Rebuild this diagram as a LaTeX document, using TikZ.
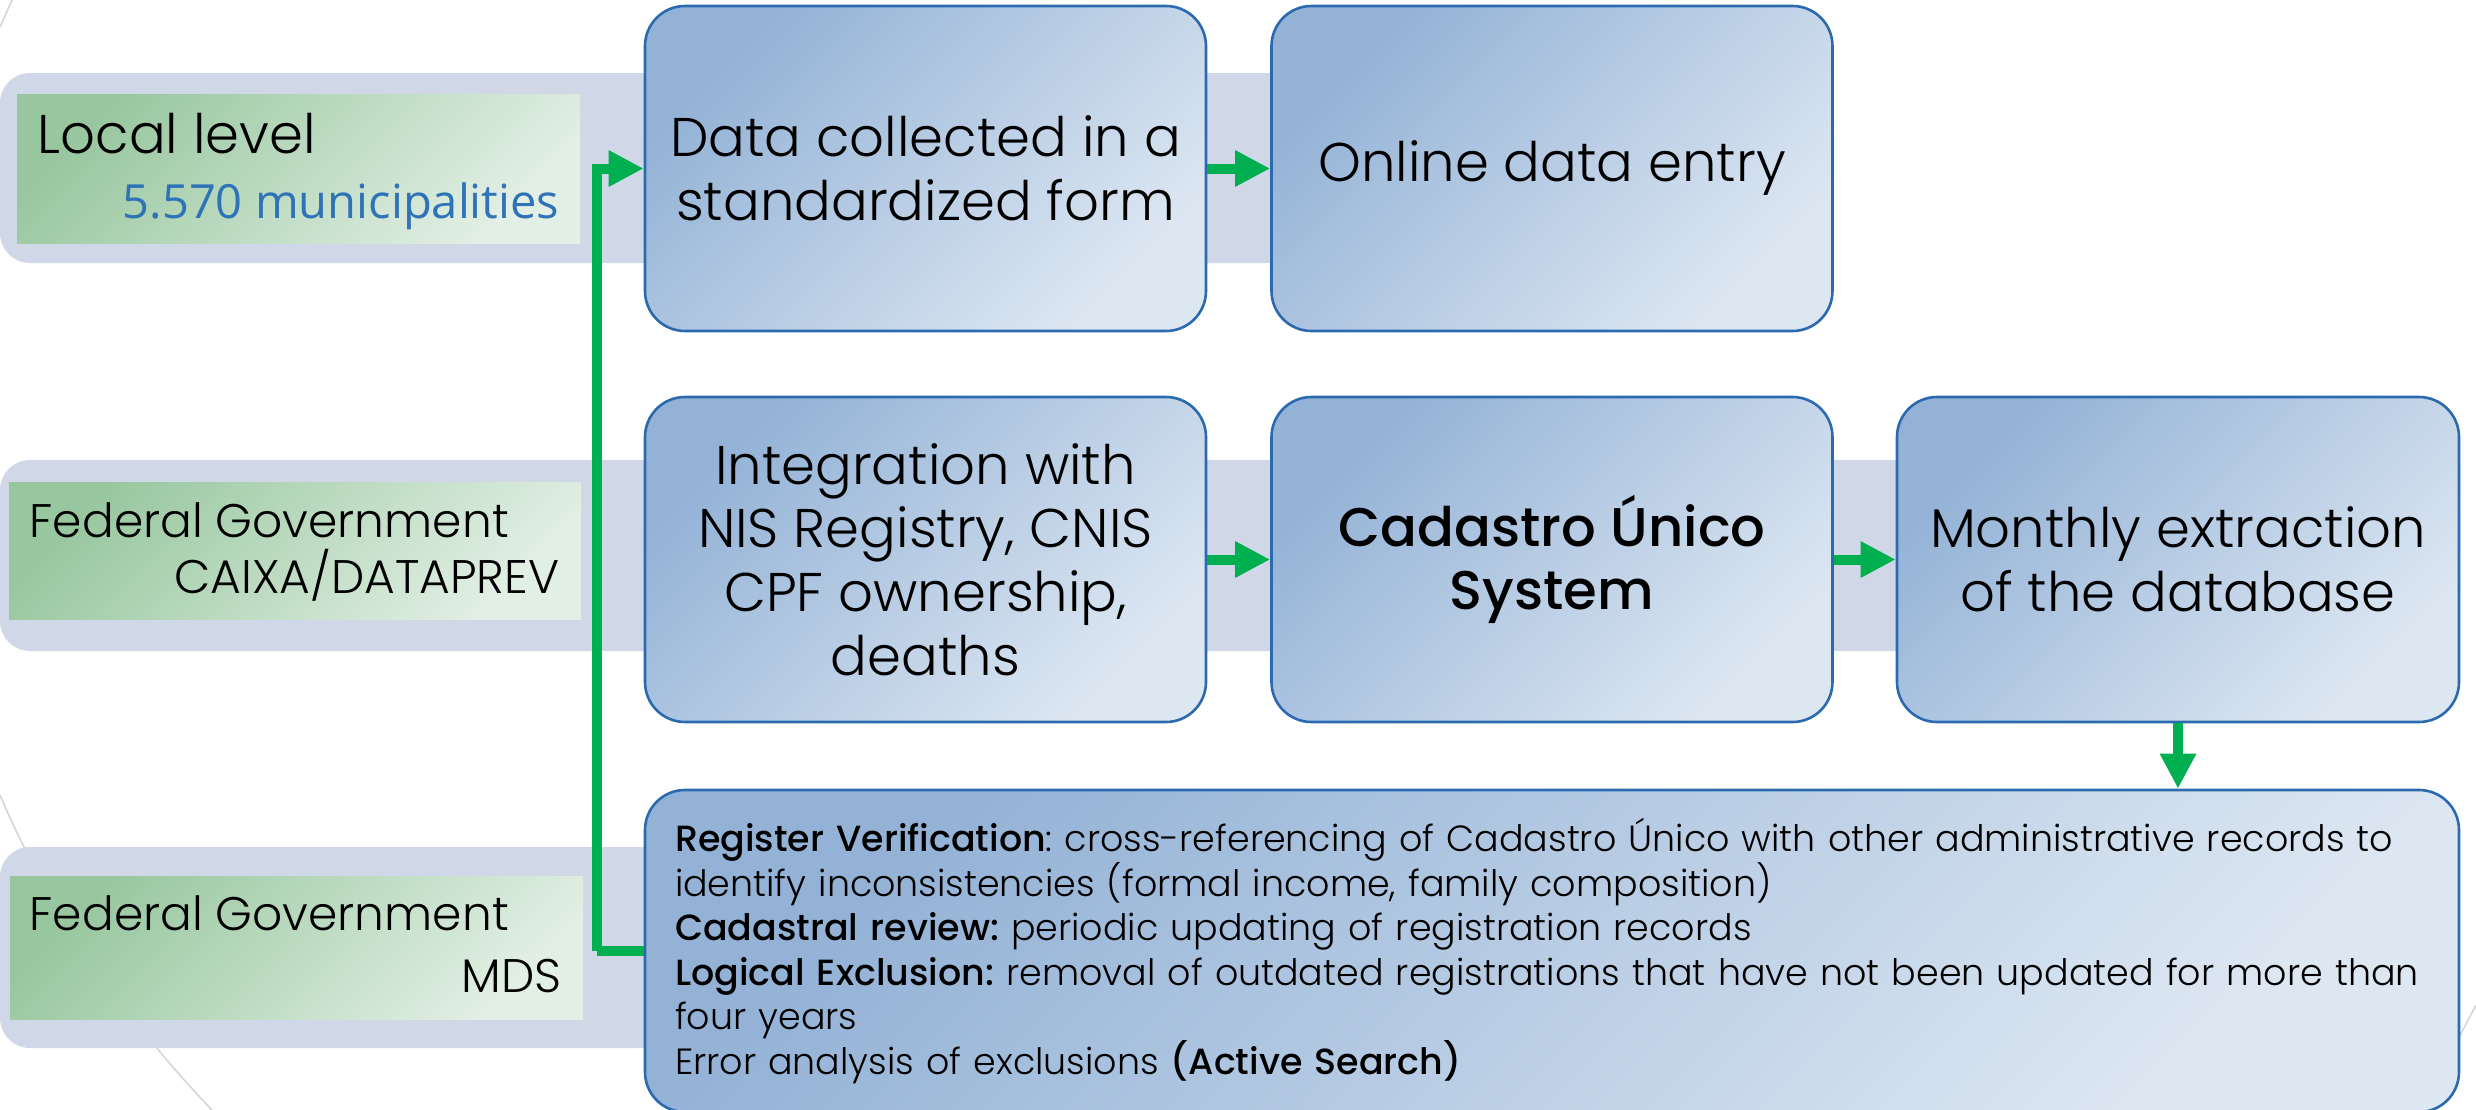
\documentclass[tikz,border=0pt]{standalone}
\usepackage{fontspec}
\setmainfont{Poppins Light}
\newfontfamily\pmed{Poppins Medium}
\newfontfamily\osans{Open Sans}
\usetikzlibrary{arrows.meta}
\frenchspacing
\definecolor{bandc}{HTML}{D0D8E8}
\definecolor{bluetl}{HTML}{93B2D6}
\definecolor{bluebr}{HTML}{DDE7F2}
\definecolor{bord}{HTML}{2C6AB0}
\definecolor{greentl}{HTML}{98C79F}
\definecolor{greenbr}{HTML}{E2EFE4}
\definecolor{arrowg}{HTML}{00B050}
\definecolor{numblue}{HTML}{2E72B8}
\definecolor{decorc}{HTML}{D4D4D4}
\tikzset{
  band/.style={fill=bandc, draw=none, rounded corners=3mm},
  lbl/.style={rectangle, inner sep=0pt, draw=none, top color=greentl, bottom color=greenbr, shading angle=45},
  proc/.style={rectangle, rounded corners=4mm, draw=bord, line width=0.26mm,
    top color=bluetl, bottom color=bluebr, shading angle=45,
    minimum width=56.1mm, minimum height=32.5mm, inner sep=0pt, align=center,
    font=\fontsize{15.5}{18.1}\selectfont},
  gar/.style={draw=arrowg, line width=1mm, -{Triangle[length=3.5mm,width=3.4mm]}},
  gline/.style={draw=arrowg, line width=1mm},
  decor/.style={draw=decorc, line width=0.15mm},
  lvbig/.style={inner sep=0pt, font=\fontsize{15.5}{18}\selectfont},
  lvmid/.style={inner sep=0pt, font=\fontsize{13.4}{16}\selectfont},
  lvnum/.style={inner sep=0pt, text=numblue, font=\osans\fontsize{13.4}{16}\selectfont}
}
\begin{document}
\begin{tikzpicture}[x=0.1mm, y=-0.1mm]
\useasboundingbox (0,0) rectangle (2476,1110);
\clip (0,0) rectangle (2476,1110);
% decorative background lines
\draw[decor] (12,0) -- (0,27);
\draw[decor] (0,795) .. controls (55,925) and (140,1035) .. (212,1110);
\draw[decor] (2476,1005) -- (2455,1045);
% bands
\fill[band] (0,73) rectangle (1400,263);
\fill[band] (0,460) rectangle (2000,651);
\fill[band] (0,847) rectangle (800,1048);
% level labels
\node[lbl, minimum width=56.3mm, minimum height=14.9mm] (g1) at (298.5,168.5) {};
\node[lbl, minimum width=57.2mm, minimum height=13.7mm] (g2) at (295,550.5) {};
\node[lbl, minimum width=57.3mm, minimum height=14.3mm] (g3) at (296.5,947.5) {};
\node[lvbig, anchor=base west] (t1a) at (37,153) {Local level};
\node[lvnum, anchor=base east] (t1b) at (560,218) {5.570 municipalities};
\node[lvmid, anchor=base west] (t2a) at (29,537) {Federal Government};
\node[lvmid, anchor=base east] (t2b) at (560,593) {CAIXA/DATAPREV};
\node[lvmid, anchor=base west] (t3a) at (29,930) {Federal Government};
\node[lvmid, anchor=base east] (t3b) at (562,992) {MDS};
% process boxes
\node[proc] (b1) at (925.5,168.5) {Data collected in a\\standardized form};
\node[proc] (b2) at (1552,168.5) {Online data entry};
\node[proc] (b3) at (925.5,559.5) {Integration with\\NIS Registry, CNIS\\CPF ownership,\\deaths};
\node[proc] (b4) at (1552,559.5) {\pmed Cadastro Único\\\pmed System};
\node[proc, minimum width=56.2mm] (b5) at (2178,559.5) {Monthly extraction\\of the database};
\node[proc, minimum width=181.4mm, minimum height=32.2mm, text width=175.4mm, align=left,
      font=\fontsize{10.36}{12.66}\selectfont] (b6) at (1552,951)
  {{\pmed Register Verification}: cross-referencing of Cadastro Único with other administrative records to\\
   identify inconsistencies (formal income, family composition)\\
   {\pmed Cadastral review:} periodic updating of registration records\\
   {\pmed Logical Exclusion:} removal of outdated registrations that have not been updated for more than\\
   four years\\
   Error analysis of exclusions {\pmed(Active Search)}};
% connectors
\draw[gar] (b1) -- (b2);
\draw[gar] (b3) -- (b4);
\draw[gar] (b4) -- (b5);
\draw[gar] (b5.south) -- (b5.south |- b6.north);
\coordinate (elb) at (597,951);
\draw[gline] (b6.west) -- (elb);
\draw[gar] (elb) |- (b1.west);
\end{tikzpicture}
\end{document}
